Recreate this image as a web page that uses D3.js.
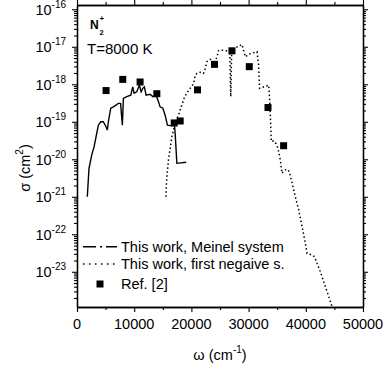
<!DOCTYPE html>
<html>
<head>
<meta charset="utf-8">
<script src="https://cdn.jsdelivr.net/npm/d3@7"></script>
<style>
  html, body { margin: 0; padding: 0; background: #fff; }
  svg { display: block; }
  text { font-family: "Liberation Sans", Arial, sans-serif; fill: #000; }
</style>
</head>
<body>
<svg id="chart" width="385" height="369"></svg>
<script>
// ---------- data ----------
// Meinel system (this work)
const meinelX = [1800, 2100, 2570, 2980, 3330, 3730, 4150, 4600, 5080, 5300, 5480, 5900, 6360, 7230, 7620, 7930, 8110, 8700, 9400, 9750, 9980, 10450, 10910, 11210, 11500, 11780, 12080, 12780, 13260, 13830, 14240, 14530, 15010, 15410, 15810, 16580, 16990, 17160, 17460, 19090];
const meinelY = [1.0e-21, 5.75e-21, 1.29e-20, 2.14e-20, 3.98e-20, 8.1e-20, 1.0e-19, 1.0e-19, 7.4e-20, 6.0e-20, 1.0e-19, 2.3e-19, 2.5e-19, 3.1e-19, 3.1e-19, 8.1e-20, 4.2e-19, 4.7e-19, 5.1e-19, 8.5e-19, 5.8e-19, 6.3e-19, 9.5e-19, 6.3e-19, 7.8e-19, 8.5e-19, 5.1e-19, 5.4e-19, 4.7e-19, 5.1e-19, 3.4e-19, 2.5e-19, 2.3e-19, 1.5e-19, 8.1e-20, 7.8e-20, 1.0e-19, 4.9e-20, 7.8e-21, 8.3e-21];

// First negative system (this work)
const firstNegX = [15550, 15640, 15810, 15990, 16160, 16410, 16580, 16860, 17160, 17740, 18330, 18740, 19210, 19790, 20360, 20660, 20960, 21540, 22110, 22410, 22710, 23290, 23760, 24040, 24460, 24740, 25340, 26210, 26700, 26880, 27050, 27490, 28840, 29120, 29420, 30000, 31470, 31750, 31920, 32620, 33500, 33620, 33790, 33970, 34370, 34790, 35140, 35550, 35840, 36300, 36720, 37120, 37470, 38170, 38750, 39350, 39920, 40220, 41100, 41550, 41970, 42550, 43130, 43720, 44300, 44600, 44830];
const firstNegY = [1.0e-21, 2.3e-21, 5.1e-21, 9.5e-21, 1.45e-20, 2.6e-20, 4.0e-20, 6.0e-20, 9.8e-20, 1.5e-19, 2.8e-19, 4.3e-19, 5.9e-19, 7.8e-19, 1.02e-18, 1.66e-18, 1.95e-18, 2.1e-18, 1.95e-18, 2.6e-18, 4.0e-18, 4.6e-18, 4.2e-18, 3.5e-18, 5.4e-18, 7.9e-18, 8.1e-18, 7.8e-18, 8.5e-18, 4.7e-19, 8.7e-18, 9.1e-18, 1.15e-17, 8.1e-18, 5.4e-18, 6.3e-18, 7.4e-18, 3.2e-18, 7.8e-19, 8.5e-19, 9.5e-19, 5.8e-19, 1.66e-19, 2.95e-20, 3.1e-20, 2.6e-20, 1.95e-20, 9.5e-21, 4.2e-21, 5.1e-21, 5.4e-21, 4.7e-21, 2.8e-21, 1.0e-21, 4.5e-22, 1.6e-22, 5.8e-23, 3.1e-23, 2.8e-23, 2.5e-23, 1.66e-23, 1.0e-23, 5.4e-24, 2.95e-24, 1.6e-24, 1.17e-24, 8.5e-25];

// Ref. [2]
const refX = [5080, 8000, 11030, 13960, 16990, 18040, 21070, 24040, 27090, 30120, 33390, 36120];
const refY = [6.8e-19, 1.35e-18, 1.15e-18, 5.6e-19, 9.3e-20, 1.05e-19, 7.1e-19, 3.4e-18, 7.8e-18, 2.95e-18, 2.4e-19, 2.3e-20];

// axes
const xDomain = [0, 50000];
const yDomain = [1.15e-24, 1.3e-16];
const xMajorTicks = [0, 10000, 20000, 30000, 40000, 50000];
const xMinorTicks = [5000, 15000, 25000, 35000, 45000];
const yMajorExps = [-23, -22, -21, -20, -19, -18, -17, -16];

const legendLabels = ["This work, Meinel system", "This work, first negaive s.", "Ref. [2]"];
const xTitle = "ω (cm", xTitleSup = "-1";
const yTitle = "σ (cm", yTitleSup = "2";

// ---------- layout ----------
const L = 77, R = 363, T = 5, B = 307;
const svg = d3.select("#chart");
const x = d3.scaleLinear().domain(xDomain).range([L, R]);
const y = d3.scaleLog().domain(yDomain).range([B, T]);

const yMajor = yMajorExps.map(e => Math.pow(10, e));
const yMinor = [];
for (let e = -25; e <= -16; e++) for (let k = 2; k <= 9; k++) {
  const v = k * Math.pow(10, e);
  if (v >= yDomain[0] && v <= yDomain[1]) yMinor.push(v);
}

const fs = 14.5;

function styleAxis(g) {
  g.select(".domain").attr("stroke", "#000").attr("stroke-width", 1.3);
  g.selectAll(".tick line").attr("stroke", "#000").attr("stroke-width", 1.1);
  g.selectAll(".tick text").remove();
}

// bottom
svg.append("g").attr("transform", `translate(0,${B})`)
  .call(d3.axisBottom(x).tickValues(xMajorTicks).tickSize(5).tickSizeOuter(0)).call(styleAxis);
svg.append("g").attr("transform", `translate(0,${B})`)
  .call(d3.axisBottom(x).tickValues(xMinorTicks).tickSize(3).tickSizeOuter(0)).call(styleAxis);
// top
svg.append("g").attr("transform", `translate(0,${T})`)
  .call(d3.axisTop(x).tickValues(xMajorTicks).tickSize(5).tickSizeOuter(0)).call(styleAxis);
svg.append("g").attr("transform", `translate(0,${T})`)
  .call(d3.axisTop(x).tickValues(xMinorTicks).tickSize(3).tickSizeOuter(0)).call(styleAxis);
// left
svg.append("g").attr("transform", `translate(${L},0)`)
  .call(d3.axisLeft(y).tickValues(yMajor).tickSize(5).tickSizeOuter(0)).call(styleAxis);
svg.append("g").attr("transform", `translate(${L},0)`)
  .call(d3.axisLeft(y).tickValues(yMinor).tickSize(3).tickSizeOuter(0)).call(styleAxis);
// right
svg.append("g").attr("transform", `translate(${R},0)`)
  .call(d3.axisRight(y).tickValues(yMajor).tickSize(5).tickSizeOuter(0)).call(styleAxis);
svg.append("g").attr("transform", `translate(${R},0)`)
  .call(d3.axisRight(y).tickValues(yMinor).tickSize(3).tickSizeOuter(0)).call(styleAxis);

// x tick labels
svg.append("g").selectAll("text").data(xMajorTicks).join("text")
  .attr("x", d => x(d)).attr("y", 329)
  .attr("text-anchor", "middle").attr("font-size", fs)
  .text(d => d3.format("d")(d));

// y tick labels
const yl = svg.append("g").selectAll("text").data(yMajorExps).join("text")
  .attr("x", 66).attr("y", d => y(Math.pow(10, d)) + 5.5)
  .attr("text-anchor", "end").attr("font-size", fs);
yl.append("tspan").text("10");
yl.append("tspan").attr("font-size", 10).attr("dy", -7).text(d => String(d));

// axis titles
const xt = svg.append("text").attr("x", 220).attr("y", 360).attr("text-anchor", "middle").attr("font-size", fs);
xt.append("tspan").text(xTitle);
xt.append("tspan").attr("font-size", 10).attr("dy", -7).text(xTitleSup);
xt.append("tspan").attr("dy", 7).text(")");

const yt = svg.append("text").attr("transform", "translate(30,168) rotate(-90)")
  .attr("text-anchor", "middle").attr("font-size", fs);
yt.append("tspan").text(yTitle);
yt.append("tspan").attr("font-size", 10).attr("dy", -7).text(yTitleSup);
yt.append("tspan").attr("dy", 7).text(")");

// clip
svg.append("clipPath").attr("id", "clip").append("rect")
  .attr("x", L).attr("y", T).attr("width", R - L).attr("height", B - T);
const plot = svg.append("g").attr("clip-path", "url(#clip)");

const line = d3.line().x(d => x(d[0])).y(d => y(d[1]));

plot.append("path").datum(d3.zip(meinelX, meinelY))
  .attr("d", line).attr("fill", "none").attr("stroke", "#000")
  .attr("stroke-width", 1.4).attr("stroke-linejoin", "miter");

plot.append("path").datum(d3.zip(firstNegX, firstNegY))
  .attr("d", line).attr("fill", "none").attr("stroke", "#000")
  .attr("stroke-width", 1.5).attr("stroke-dasharray", "1.5,2.5");

const sq = 7;
plot.selectAll("rect.ref").data(d3.zip(refX, refY)).join("rect")
  .attr("class", "ref")
  .attr("x", d => x(d[0]) - sq / 2).attr("y", d => y(d[1]) - sq / 2)
  .attr("width", sq).attr("height", sq).attr("fill", "#000");

// annotations
svg.append("text").attr("x", 90).attr("y", 29).attr("font-size", 12).attr("font-weight", "bold").text("N");
svg.append("text").attr("x", 99.5).attr("y", 21).attr("font-size", 8).attr("font-weight", "bold").text("+");
svg.append("text").attr("x", 99.5).attr("y", 35).attr("font-size", 7.5).attr("font-weight", "bold").text("2");
svg.append("text").attr("x", 87).attr("y", 54).attr("font-size", 15).text("T=8000 K");

// legend
const legY = [246.7, 264, 284];
svg.append("line").attr("x1", 83).attr("x2", 117).attr("y1", legY[0]).attr("y2", legY[0])
  .attr("stroke", "#000").attr("stroke-width", 1.5).attr("stroke-dasharray", "13,4,2,4");
svg.append("line").attr("x1", 83).attr("x2", 117).attr("y1", legY[1]).attr("y2", legY[1])
  .attr("stroke", "#000").attr("stroke-width", 1.5).attr("stroke-dasharray", "1.5,4.5");
svg.append("rect").attr("x", 100 - sq / 2).attr("y", legY[2] - sq / 2)
  .attr("width", sq).attr("height", sq).attr("fill", "#000");
svg.append("g").selectAll("text").data(legendLabels).join("text")
  .attr("x", 121).attr("y", (d, i) => legY[i] + 5.2)
  .attr("font-size", fs).text(d => d);
</script>
</body>
</html>
